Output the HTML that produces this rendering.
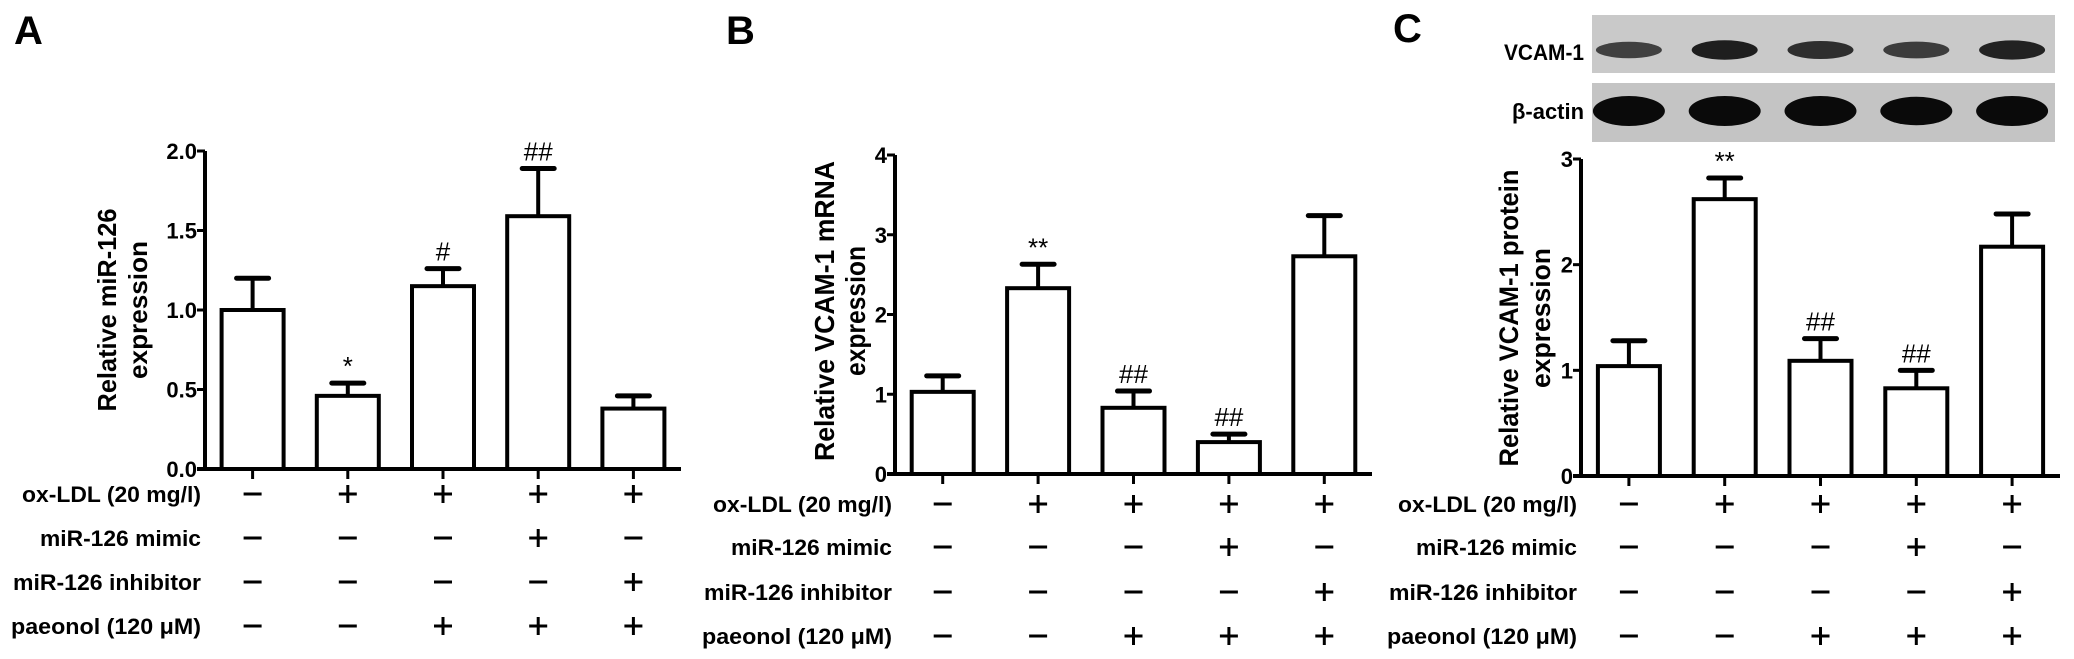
<!DOCTYPE html>
<html><head><meta charset="utf-8">
<style>
html,body{margin:0;padding:0;background:#fff;}
svg{display:block;}
text{font-family:"Liberation Sans",Arial,sans-serif;}
</style></head>
<body>
<svg id="fig" width="2074" height="659" viewBox="0 0 2074 659" xmlns="http://www.w3.org/2000/svg">
  <text x="14" y="44" font-size="40" font-weight="bold">A</text>
  <text x="726" y="44" font-size="40" font-weight="bold">B</text>
  <text x="1393" y="42" font-size="40" font-weight="bold">C</text>

  <g>
    <rect x="1592" y="15" width="463" height="58" fill="#c9c9c9"/>
    <rect x="1592" y="83" width="463" height="59" fill="#c4c4c4"/>
    <text x="1584" y="60" font-size="22" font-weight="bold" text-anchor="end" textLength="80" lengthAdjust="spacingAndGlyphs">VCAM-1</text>
    <text x="1584" y="119" font-size="22" font-weight="bold" text-anchor="end" textLength="72" lengthAdjust="spacingAndGlyphs">β-actin</text>
    <g id="bands"></g>
  </g>
  <g id="panels"></g>
</svg>
<script>
// ---- data ----
const oxLDL     = ['-','+','+','+','+'];
const mimic     = ['-','-','-','+','-'];
const inhibitor = ['-','-','-','-','+'];
const paeonol   = ['-','-','+','+','+'];
const rowLabels = ['ox-LDL (20 mg/l)','miR-126 mimic','miR-126 inhibitor','paeonol (120 μM)'];

const valuesA = [1.00, 0.46, 1.15, 1.59, 0.38];
const errorsA = [0.20, 0.08, 0.11, 0.30, 0.08];
const annotA  = ['', '*', '#', '##', ''];
const ticksA  = [0, 0.5, 1.0, 1.5, 2.0];
const tickLabelsA = ['0.0','0.5','1.0','1.5','2.0'];

const valuesB = [1.03, 2.33, 0.83, 0.40, 2.73];
const errorsB = [0.20, 0.30, 0.21, 0.10, 0.51];
const annotB  = ['', '**', '##', '##', ''];
const ticksB  = [0, 1, 2, 3, 4];
const tickLabelsB = ['0','1','2','3','4'];

const valuesC = [1.04, 2.62, 1.09, 0.83, 2.17];
const errorsC = [0.24, 0.20, 0.21, 0.17, 0.31];
const annotC  = ['', '**', '##', '##', ''];
const ticksC  = [0, 1, 2, 3];
const tickLabelsC = ['0','1','2','3'];

const vcamBand  = [0.55, 0.95, 0.75, 0.6, 0.9];
const actinBand = [1.0, 1.0, 1.0, 0.85, 1.0];

// ---- drawing ----
const NS = 'http://www.w3.org/2000/svg';
const root = document.getElementById('panels');
function mk(tag, attrs, parent){
  const e = document.createElementNS(NS, tag);
  for (const k in attrs) e.setAttribute(k, attrs[k]);
  (parent||root).appendChild(e);
  return e;
}

function drawPanel(p){
  const g = mk('g', {});
  
  
  const y = v => p.y0 - (v / p.max) * (p.y0 - p.yTop);
  const band = (p.x1 - p.x0) / p.values.length;
  const cx = i => p.x0 + band * (i + 0.5);
  const bw = 62;

  p.values.forEach((v, i) => {
    const ebar = mk('line', {x1: cx(i), x2: cx(i), y1: y(v), y2: y(v + p.errors[i]), stroke: '#000', 'stroke-width': 4}, g);
    
    
    const cap = mk('line', {x1: cx(i) - 16, x2: cx(i) + 16, y1: y(v + p.errors[i]), y2: y(v + p.errors[i]), stroke: '#000', 'stroke-width': 5, 'stroke-linecap': 'round'}, g);
    
    
    const r = mk('rect', {x: cx(i) - bw/2, y: y(v), width: bw, height: p.y0 - y(v), fill: '#fff', stroke: '#000', 'stroke-width': 4}, g);
    
    
    if (p.annot[i]) {
      const t = mk('text', {x: cx(i), y: y(v + p.errors[i]) - 8, 'text-anchor': 'middle', 'font-size': 26, 'font-family': '"Liberation Serif",serif'}, g);
      t.textContent = p.annot[i];
      
      
    }
    const tk = mk('line', {x1: cx(i), x2: cx(i), y1: p.y0, y2: p.y0 + 10, stroke: '#000', 'stroke-width': 3}, g);
    
    
  });

  const ya = mk('line', {x1: p.x0, x2: p.x0, y1: p.yTop, y2: p.y0 + 2, stroke: '#000', 'stroke-width': 4}, g);
  
  
  const xa = mk('line', {x1: p.x0 - 8, x2: p.x1, y1: p.y0, y2: p.y0, stroke: '#000', 'stroke-width': 4}, g);
  
  
  p.ticks.forEach((t, i) => {
    const l = mk('line', {x1: p.x0 - 8, x2: p.x0, y1: y(t), y2: y(t), stroke: '#000', 'stroke-width': 3}, g);
    
    
    const tl = mk('text', {x: p.x0 - 8, y: y(t) + 8, 'text-anchor': 'end', 'font-size': 22, 'font-weight': 'bold'}, g);
    tl.textContent = p.tickLabels[i];
    
    
  });

  const tcy = p.titleCy;
  const t1 = mk('text', {x: 0, y: 0, transform: 'translate(' + p.titleX1 + ',' + tcy + ') rotate(-90)', 'text-anchor': 'middle', 'font-size': p.titleSize, 'font-weight': 'bold', textLength: p.titleLen1, lengthAdjust: 'spacingAndGlyphs'}, g);
  t1.textContent = p.title1;
  
  
  const t2 = mk('text', {x: 0, y: 0, transform: 'translate(' + p.titleX2 + ',' + tcy + ') rotate(-90)', 'text-anchor': 'middle', 'font-size': p.titleSize, 'font-weight': 'bold', textLength: p.titleLen2, lengthAdjust: 'spacingAndGlyphs'}, g);
  t2.textContent = 'expression';
  
  

  const rows = [oxLDL, mimic, inhibitor, paeonol];
  const lens = [179, 161, 188, 190];
  rows.forEach((row, r) => {
    const ry = p.rowY[r];
    const lab = mk('text', {x: p.labelRight, y: ry + 8, 'text-anchor': 'end', 'font-size': 22, 'font-weight': 'bold', textLength: lens[r], lengthAdjust: 'spacingAndGlyphs'}, g);
    lab.textContent = rowLabels[r];
    
    
    row.forEach((s, i) => {
      const m = mk('line', {x1: cx(i) - 9, x2: cx(i) + 9, y1: ry, y2: ry, stroke: '#000', 'stroke-width': 3}, g);
      
      
      if (s === '+') {
        const v = mk('line', {x1: cx(i), x2: cx(i), y1: ry - 9, y2: ry + 9, stroke: '#000', 'stroke-width': 3}, g);
        
        
      }
    });
  });
}

drawPanel({id:'a', values: valuesA, errors: errorsA, annot: annotA, ticks: ticksA, tickLabels: tickLabelsA, max: 2,
  x0: 205, x1: 681, y0: 469, yTop: 151, labelRight: 201, rowY: [494, 538, 582, 626],
  title1: 'Relative miR-126', titleLen1: 203, titleLen2: 138, titleSize: 26, titleX1: 116, titleX2: 147, titleCy: 310});
drawPanel({id:'b', values: valuesB, errors: errorsB, annot: annotB, ticks: ticksB, tickLabels: tickLabelsB, max: 4,
  x0: 895, x1: 1372, y0: 474, yTop: 155, labelRight: 892, rowY: [504, 547, 592, 636],
  title1: 'Relative VCAM-1 mRNA', titleLen1: 300, titleLen2: 130, titleSize: 28, titleX1: 834, titleX2: 865, titleCy: 311});
drawPanel({id:'c', values: valuesC, errors: errorsC, annot: annotC, ticks: ticksC, tickLabels: tickLabelsC, max: 3,
  x0: 1581, x1: 2060, y0: 476, yTop: 159, labelRight: 1577, rowY: [504, 547, 592, 636],
  title1: 'Relative VCAM-1 protein', titleLen1: 297, titleLen2: 140, titleSize: 27, titleX1: 1518, titleX2: 1550, titleCy: 318});

const bands = document.getElementById('bands');
const bandX = i => 1581 + (2060 - 1581) / 5 * (i + 0.5);
vcamBand.forEach((a, i) => {
  const e = mk('ellipse', {cx: bandX(i), cy: 50, rx: 33, ry: 6 + 4 * a, fill: '#111', opacity: 0.5 + 0.45 * a}, bands);
  
  
});
actinBand.forEach((a, i) => {
  const e = mk('ellipse', {cx: bandX(i), cy: 111, rx: 36, ry: 10 + 5 * a, fill: '#0a0a0a'}, bands);
  
  
});
</script>
</body></html>
